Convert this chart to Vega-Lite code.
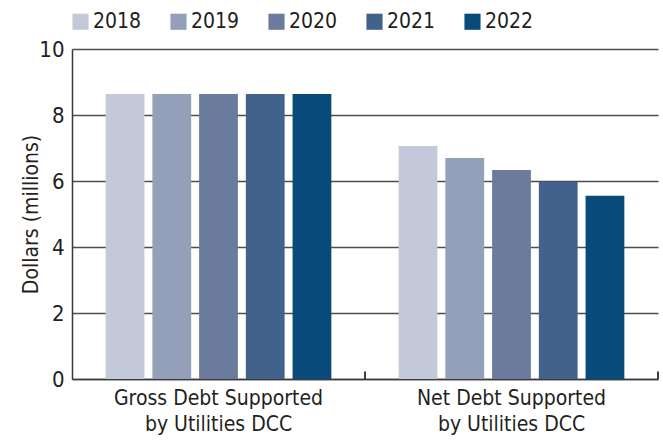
{
  "$schema": "https://vega.github.io/schema/vega-lite/v6.json",
  "width": 586,
  "height": 330,
  "autosize": {"type": "none"},
  "padding": {"left": 72, "top": 49, "right": 5, "bottom": 65},
  "background": "white",
  "config": {
    "view": {"stroke": null},
    "font": "DejaVu Sans Condensed",
    "axis": {"labelFont": "DejaVu Sans Condensed", "titleFont": "DejaVu Sans Condensed", "labelColor": "#231f20", "titleColor": "#231f20"},
    "legend": {"labelFont": "DejaVu Sans Condensed"}
  },
  "data": {
    "values": [
      {"category": "Gross Debt Supported by Utilities DCC", "year": "2018", "value": 8.64},
      {"category": "Gross Debt Supported by Utilities DCC", "year": "2019", "value": 8.64},
      {"category": "Gross Debt Supported by Utilities DCC", "year": "2020", "value": 8.64},
      {"category": "Gross Debt Supported by Utilities DCC", "year": "2021", "value": 8.64},
      {"category": "Gross Debt Supported by Utilities DCC", "year": "2022", "value": 8.64},
      {"category": "Net Debt Supported by Utilities DCC", "year": "2018", "value": 7.06},
      {"category": "Net Debt Supported by Utilities DCC", "year": "2019", "value": 6.70},
      {"category": "Net Debt Supported by Utilities DCC", "year": "2020", "value": 6.33},
      {"category": "Net Debt Supported by Utilities DCC", "year": "2021", "value": 5.98},
      {"category": "Net Debt Supported by Utilities DCC", "year": "2022", "value": 5.55}
    ]
  },
  "encoding": {
    "x": {
      "field": "category",
      "type": "nominal",
      "scale": {"paddingInner": 0, "paddingOuter": 0},
      "axis": {
        "title": null,
        "labelAngle": 0,
        "labelFontSize": 21,
        "labelLineHeight": 26,
        "labelPadding": 8,
        "labelLimit": 0,
        "labelExpr": "datum.value == 'Gross Debt Supported by Utilities DCC' ? ['Gross Debt Supported', 'by Utilities DCC'] : ['Net Debt Supported', 'by Utilities DCC']",
        "domainColor": "#3a3a3a",
        "domainWidth": 1.5,
        "ticks": false
      }
    }
  },
  "layer": [
    {
      "mark": {"type": "bar"},
      "encoding": {
        "xOffset": {
          "field": "year",
          "type": "nominal",
          "scale": {"paddingInner": 0.17, "paddingOuter": 0.72}
        },
        "y": {
          "field": "value",
          "type": "quantitative",
          "scale": {"domain": [0, 10]},
          "axis": {
            "title": "Dollars (millions)",
            "titleFontSize": 21,
            "titleFontWeight": "normal",
            "titlePadding": -3,
            "labelFontSize": 22,
            "labelPadding": 8,
            "values": [0, 2, 4, 6, 8, 10],
            "ticks": false,
            "grid": true,
            "gridColor": "#4d4d4d",
            "gridWidth": 1.5,
            "domainColor": "#3a3a3a",
            "domainWidth": 1.5
          }
        },
        "color": {
          "field": "year",
          "type": "nominal",
          "scale": {
            "domain": ["2018", "2019", "2020", "2021", "2022"],
            "range": ["#c4c9d9", "#949fba", "#6b7b9e", "#42628c", "#084b7a"]
          },
          "legend": {
            "title": null,
            "orient": "none",
            "legendX": -2,
            "legendY": -38,
            "direction": "horizontal",
            "columns": 5,
            "symbolType": "square",
            "symbolSize": 260,
            "symbolStrokeWidth": 0,
            "symbolOpacity": 1,
            "labelFontSize": 21,
            "labelColor": "#231f20",
            "labelOffset": 2,
            "columnPadding": 26
          }
        }
      }
    },
    {
      "mark": {"type": "rule", "color": "#3a3a3a", "strokeWidth": 1},
      "encoding": {
        "x": {"field": "category", "type": "nominal", "bandPosition": 1},
        "y": {"datum": 0},
        "y2": {"datum": 0.22}
      }
    }
  ]
}
